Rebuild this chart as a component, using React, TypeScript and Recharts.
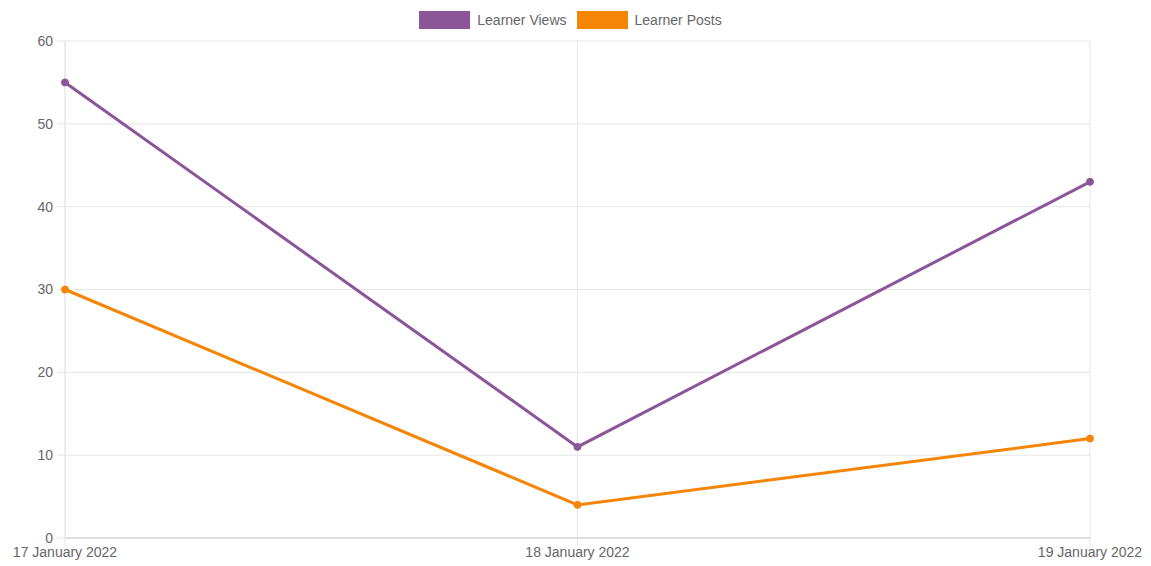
import { LineChart, Line, XAxis, YAxis, CartesianGrid, Legend } from "recharts";

// dates on the x axis
const days = ["17 January 2022", "18 January 2022", "19 January 2022"];
const learnerViews = [55, 11, 43];
const learnerPosts = [30, 4, 12];
const yTicks = [0, 10, 20, 30, 40, 50, 60];

const VIEWS_COLOR = "#8a5699";
const POSTS_COLOR = "#f48507";
const FONT = "'Liberation Sans', Arial, Helvetica, sans-serif";

const data = days.map((day, i) => ({
  day,
  views: learnerViews[i],
  posts: learnerPosts[i],
}));

const series = [
  { key: "views", name: "Learner Views", color: VIEWS_COLOR },
  { key: "posts", name: "Learner Posts", color: POSTS_COLOR },
];

function LegendBoxes() {
  return (
    <div style={{ height: 30, display: "flex", justifyContent: "center", fontFamily: FONT, fontSize: 14, color: "#666" }}>
      {series.map((s) => (
        <div key={s.key} style={{ display: "flex", alignItems: "flex-start", marginRight: 10 }}>
          <span style={{ width: 51, height: 18, background: s.color, display: "inline-block", marginRight: 7 }} />
          <span style={{ lineHeight: "18px" }}>{s.name}</span>
        </div>
      ))}
    </div>
  );
}

export default function App() {
  return (
    <div style={{ position: "absolute", left: 0, top: 0, width: 1151, height: 566, background: "#fff" }}>
      <LineChart width={1151} height={566} data={data} margin={{ top: 11, right: 61, bottom: 0, left: 0 }}>
        <CartesianGrid stroke="#e6e6e6" />
        <XAxis
          dataKey="day"
          height={28}
          tickSize={8}
          tickMargin={1}
          tickLine={{ stroke: "#e6e6e6" }}
          axisLine={{ stroke: "#c8c8c8" }}
          tick={{ fill: "#666", fontSize: 14, fontFamily: FONT }}
          interval={0}
        />
        <YAxis
          width={65}
          domain={[0, 60]}
          ticks={yTicks}
          tickSize={8}
          tickMargin={4}
          tickLine={{ stroke: "#e6e6e6" }}
          axisLine={{ stroke: "#e6e6e6" }}
          tick={{ fill: "#666", fontSize: 14, fontFamily: FONT }}
        />
        <Legend
          verticalAlign="top"
          align="center"
          wrapperStyle={{ left: 0, width: 1151 }}
          content={<LegendBoxes />}
        />
        {series.map((s) => (
          <Line
            key={s.key}
            type="linear"
            dataKey={s.key}
            name={s.name}
            stroke={s.color}
            strokeWidth={3}
            dot={{ r: 3.5, fill: s.color, stroke: s.color, strokeWidth: 1 }}
            isAnimationActive={false}
          />
        ))}
      </LineChart>
    </div>
  );
}
